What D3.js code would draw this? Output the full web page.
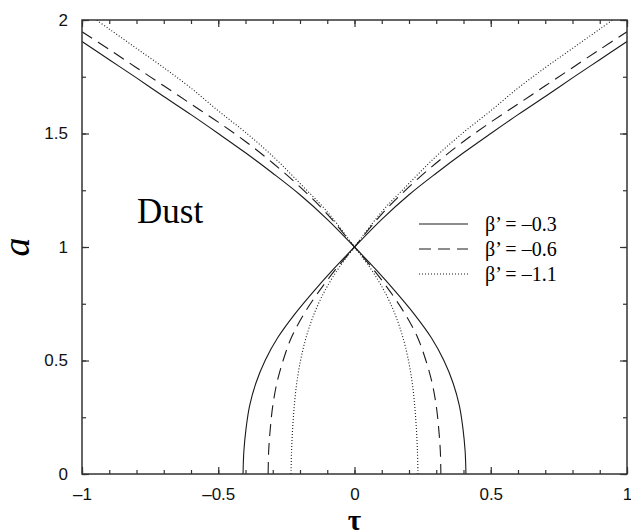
<!DOCTYPE html>
<html>
<head>
<meta charset="utf-8">
<script src="https://cdn.jsdelivr.net/npm/d3@7"></script>
<style>
  body { margin: 0; background: #fff; }
  svg { display: block; }
</style>
</head>
<body>
<div id="chart"></div>
<script>
// decreasing branch of each curve as [tau, a]; the increasing branch is its mirror in tau
const solidCurve = [
  [-1.0, 1.905], [-0.9, 1.825], [-0.8, 1.745], [-0.7, 1.663], [-0.6, 1.583],
  [-0.5, 1.50], [-0.4, 1.415], [-0.3, 1.325], [-0.2, 1.23], [-0.1, 1.122],
  [0, 1.0], [0.079, 0.9], [0.153, 0.8], [0.222, 0.7], [0.282, 0.6],
  [0.328, 0.5], [0.362, 0.4], [0.385, 0.3], [0.398, 0.2], [0.406, 0.1],
  [0.409, 0.0]
];
const dashedCurve = [
  [-1.0, 1.948], [-0.9, 1.87], [-0.8, 1.79], [-0.7, 1.71], [-0.6, 1.63],
  [-0.5, 1.55], [-0.4, 1.465], [-0.3, 1.37], [-0.2, 1.265], [-0.1, 1.145],
  [0, 1.0], [0.07, 0.9], [0.133, 0.8], [0.188, 0.7], [0.232, 0.6],
  [0.262, 0.5], [0.285, 0.4], [0.300, 0.3], [0.309, 0.2], [0.315, 0.1],
  [0.317, 0.0]
];
const dottedCurve = [
  [-1.0, 2.045], [-0.9, 1.96], [-0.8, 1.875], [-0.7, 1.79], [-0.6, 1.70],
  [-0.5, 1.60], [-0.4, 1.505], [-0.3, 1.40], [-0.2, 1.28], [-0.1, 1.155],
  [0, 1.0], [0.062, 0.9], [0.112, 0.8], [0.15, 0.7], [0.178, 0.6],
  [0.198, 0.5], [0.212, 0.4], [0.221, 0.3], [0.227, 0.2], [0.231, 0.1],
  [0.233, 0.0]
];
const seriesLabels = ["β’ = –0.3", "β’ = –0.6", "β’ = –1.1"];
const seriesDash = [null, "12,7", "1,2"];
const seriesData = [solidCurve, dashedCurve, dottedCurve];

const xTicks = [-1, -0.5, 0, 0.5, 1];
const yTicks = [0, 0.5, 1, 1.5, 2];

const width = 631, height = 530;
const margin = {left: 82, right: 4, top: 20, bottom: 56};

const svg = d3.select("#chart").append("svg")
  .attr("width", width).attr("height", height);

const x = d3.scaleLinear().domain([-1, 1]).range([margin.left, width - margin.right]);
const y = d3.scaleLinear().domain([0, 2]).range([height - margin.bottom, margin.top]);

svg.append("defs").append("clipPath").attr("id", "clip")
  .append("rect")
  .attr("x", x(-1)).attr("y", y(2))
  .attr("width", x(1) - x(-1)).attr("height", y(0) - y(2));

const line = d3.line()
  .x(d => x(d[0]))
  .y(d => y(d[1]))
  .curve(d3.curveCatmullRom.alpha(0.5));

const plot = svg.append("g").attr("clip-path", "url(#clip)");

seriesData.forEach((curve, i) => {
  const mirrored = curve.map(d => [-d[0], d[1]]).reverse();
  [curve, mirrored].forEach(c => {
    plot.append("path")
      .datum(c)
      .attr("d", line)
      .attr("fill", "none")
      .attr("stroke", "#1a1a1a")
      .attr("stroke-width", 1.1)
      .attr("stroke-dasharray", seriesDash[i]);
  });
});

// inward ticks on all four sides
const axisStyle = g => {
  g.select(".domain").remove();
  g.selectAll(".tick line").attr("stroke", "#333").attr("stroke-width", 1.2);
  g.selectAll(".tick text")
    .attr("font-family", "'Liberation Sans', Arial, sans-serif")
    .attr("font-size", 17).attr("fill", "#111");
};

svg.append("g")
  .attr("transform", `translate(0,${y(0)})`)
  .call(d3.axisBottom(x).tickValues(d3.range(-1, 1.001, 0.1)).tickSize(-4).tickFormat(""))
  .call(axisStyle);
svg.append("g")
  .attr("transform", `translate(0,${y(0)})`)
  .call(d3.axisBottom(x).tickValues(xTicks).tickSize(-7).tickPadding(14)
    .tickFormat(d => d === 0 ? "0" : String(d).replace("-", "–")))
  .call(axisStyle);
svg.append("g")
  .attr("transform", `translate(0,${y(2)})`)
  .call(d3.axisTop(x).tickValues(d3.range(-1, 1.001, 0.1)).tickSize(-4).tickFormat(""))
  .call(axisStyle);
svg.append("g")
  .attr("transform", `translate(0,${y(2)})`)
  .call(d3.axisTop(x).tickValues(xTicks).tickSize(-7).tickFormat(""))
  .call(axisStyle);

svg.append("g")
  .attr("transform", `translate(${x(-1)},0)`)
  .call(d3.axisLeft(y).tickValues(d3.range(0, 2.001, 0.25)).tickSize(-4).tickFormat(""))
  .call(axisStyle);
svg.append("g")
  .attr("transform", `translate(${x(-1)},0)`)
  .call(d3.axisLeft(y).tickValues(yTicks).tickSize(-7).tickPadding(14).tickFormat(d3.format("")))
  .call(axisStyle);
svg.append("g")
  .attr("transform", `translate(${x(1)},0)`)
  .call(d3.axisRight(y).tickValues(d3.range(0, 2.001, 0.25)).tickSize(-4).tickFormat(""))
  .call(axisStyle);
svg.append("g")
  .attr("transform", `translate(${x(1)},0)`)
  .call(d3.axisRight(y).tickValues(yTicks).tickSize(-7).tickFormat(""))
  .call(axisStyle);

// frame
svg.append("rect")
  .attr("x", x(-1)).attr("y", y(2))
  .attr("width", x(1) - x(-1)).attr("height", y(0) - y(2))
  .attr("fill", "none").attr("stroke", "#333").attr("stroke-width", 1.5);

// axis titles
svg.append("text")
  .attr("x", x(0)).attr("y", 530)
  .attr("text-anchor", "middle")
  .attr("font-family", "'Liberation Serif', 'Times New Roman', serif")
  .attr("font-weight", "bold")
  .attr("font-size", 29)
  .text("τ");
svg.append("text")
  .attr("transform", `translate(29,${y(1)}) rotate(-90)`)
  .attr("text-anchor", "middle")
  .attr("font-family", "'Liberation Serif', 'Times New Roman', serif")
  .attr("font-style", "italic")
  .attr("font-size", 38)
  .text("a");

svg.append("text")
  .attr("x", 137).attr("y", 223)
  .attr("font-family", "'Liberation Serif', 'Times New Roman', serif")
  .attr("font-size", 35)
  .text("Dust");

// legend
const legend = svg.append("g");
seriesLabels.forEach((label, i) => {
  const ly = 224 + i * 25;
  legend.append("line")
    .attr("x1", 419).attr("x2", 468)
    .attr("y1", ly).attr("y2", ly)
    .attr("stroke", "#1a1a1a").attr("stroke-width", 1.1)
    .attr("stroke-dasharray", seriesDash[i]);
  legend.append("text")
    .attr("x", 485).attr("y", ly + 7)
    .attr("font-family", "'Liberation Serif', 'Times New Roman', serif")
    .attr("font-size", 20)
    .text(label);
});
</script>
</body>
</html>
